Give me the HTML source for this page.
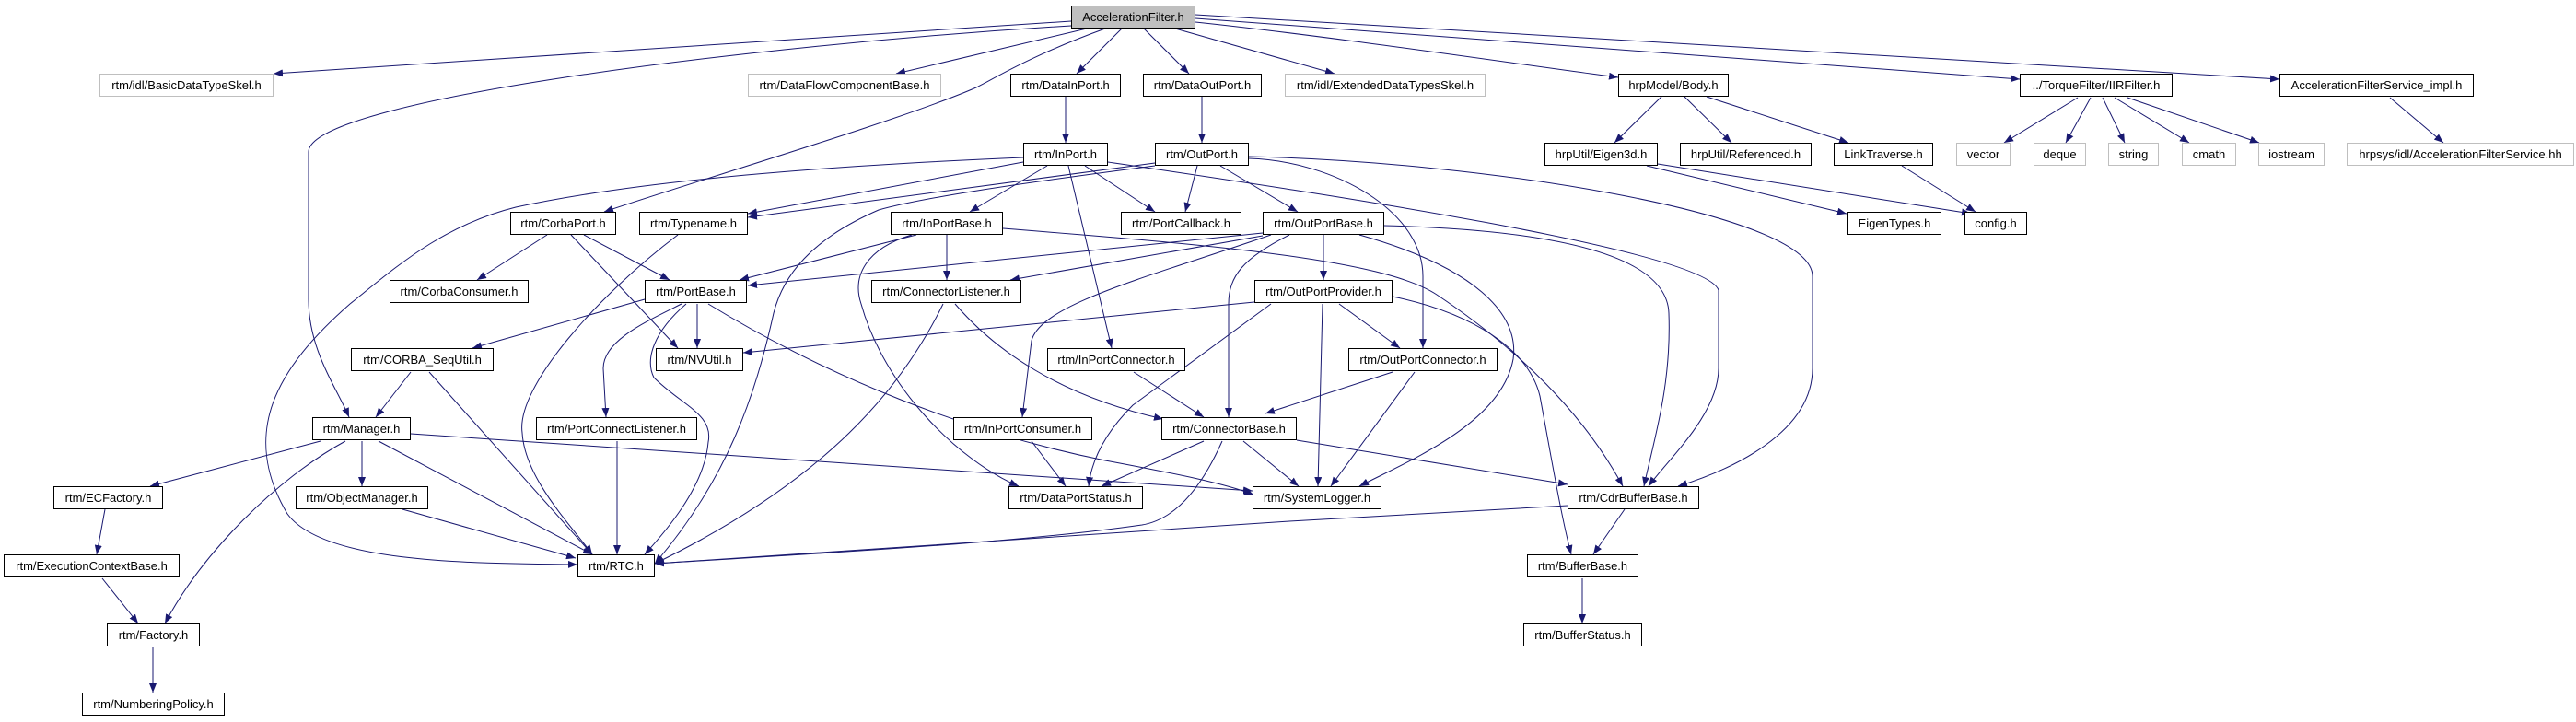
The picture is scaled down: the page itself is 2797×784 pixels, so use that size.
<!DOCTYPE html>
<html><head><meta charset="utf-8"><style>
html,body{margin:0;padding:0;background:#fff;}
#c{position:relative;width:2797px;height:784px;overflow:hidden;}
svg{position:absolute;left:0;top:0;}
.n{position:absolute;height:23px;border:1px solid #000;background:#fff;font:13px "Liberation Sans",sans-serif;line-height:23px;text-align:center;white-space:nowrap;color:#000;box-sizing:content-box;}
.g{border-color:#bfbfbf;}
.r{background:#bfbfbf;}
</style></head><body><div id="c">
<svg width="2797" height="784" viewBox="0 0 2797 784">
<defs><marker id="a" markerWidth="10" markerHeight="8" refX="10" refY="4" orient="auto" markerUnits="userSpaceOnUse"><path d="M0,0 L10,4 L0,8 z" fill="#191970"/></marker></defs>
<g fill="none" stroke="#191970" stroke-width="1" marker-end="url(#a)">
<path d="M1163,23 L297,80"/>
<path d="M1163,28 C800,50 335,110 335,165 L335,325 C335,380 365,420 379,453"/>
<path d="M1180,31 L973,80"/>
<path d="M1200,31 C1120,60 1080,85 1060,95 C980,130 760,195 656,230"/>
<path d="M1218,31 L1169,80"/>
<path d="M1242,31 L1291,80"/>
<path d="M1276,31 L1449,80"/>
<path d="M1298,24 C1450,40 1650,70 1757,84"/>
<path d="M1298,20 L2193,86"/>
<path d="M1298,16 L2475,86"/>
<path d="M1157,105 L1157,155"/>
<path d="M1305,105 L1305,155"/>
<path d="M1111,176 L812,232"/>
<path d="M1111,171 C900,180 700,195 560,225 C480,245 430,290 380,330 C300,400 260,470 312,558 C350,610 500,612 627,613"/>
<path d="M1137,180 L1053,230"/>
<path d="M1178,180 L1254,230"/>
<path d="M1160,180 L1207,378"/>
<path d="M1203,176 C1400,205 1850,270 1866,315 L1866,400 C1866,450 1810,500 1790,528"/>
<path d="M1254,177 L812,236"/>
<path d="M1254,180 C1100,200 1000,215 954,228 C880,260 850,300 840,340 C820,430 790,520 711,612"/>
<path d="M1300,180 L1287,230"/>
<path d="M1325,180 L1409,230"/>
<path d="M1356,172 C1450,175 1545,230 1545,300 L1545,378"/>
<path d="M1356,170 C1600,175 1968,230 1968,300 L1968,400 C1968,470 1880,510 1822,528"/>
<path d="M1804,105 L1753,155"/>
<path d="M1829,105 L1880,155"/>
<path d="M1853,105 L2007,155"/>
<path d="M1788,180 L2005,232"/>
<path d="M1800,178 L2140,232"/>
<path d="M2065,180 L2145,230"/>
<path d="M2256,106 L2176,155"/>
<path d="M2270,106 L2243,155"/>
<path d="M2283,106 L2307,155"/>
<path d="M2296,106 L2377,155"/>
<path d="M2310,106 L2453,155"/>
<path d="M2595,106 L2653,155"/>
<path d="M594,255 L518,304"/>
<path d="M620,255 L736,378"/>
<path d="M634,255 L727,304"/>
<path d="M736,255 C650,320 560,420 567,470 C570,520 620,570 643,602"/>
<path d="M995,255 L803,304"/>
<path d="M1028,255 L1028,304"/>
<path d="M990,255 C940,270 925,300 935,330 C960,420 1040,500 1106,528"/>
<path d="M1089,248 C1300,265 1500,280 1560,320 C1650,380 1720,450 1762,528"/>
<path d="M1371,253 L812,310"/>
<path d="M1371,256 L1097,304"/>
<path d="M1437,255 L1437,304"/>
<path d="M1380,255 C1250,300 1130,330 1120,370 L1110,453"/>
<path d="M1400,255 C1350,280 1334,300 1334,330 L1334,453"/>
<path d="M1476,255 C1600,290 1650,340 1643,390 C1630,460 1530,500 1476,528"/>
<path d="M1503,245 C1700,250 1810,280 1812,340 C1815,420 1795,480 1785,528"/>
<path d="M1380,330 L1230,440 C1200,470 1185,500 1182,528"/>
<path d="M700,325 L513,378"/>
<path d="M757,330 L757,378"/>
<path d="M740,330 C700,350 655,370 655,400 L658,453"/>
<path d="M745,330 C710,360 700,390 710,410 C740,440 775,450 769,480 C765,530 720,580 700,602"/>
<path d="M769,330 C900,410 1050,470 1200,500 C1280,515 1330,525 1361,537"/>
<path d="M1024,330 C980,420 900,520 711,612"/>
<path d="M1037,330 C1080,380 1150,430 1263,455"/>
<path d="M1362,328 L807,383"/>
<path d="M1454,330 L1520,378"/>
<path d="M1436,330 L1431,528"/>
<path d="M1512,322 C1600,340 1660,380 1672,430 C1685,500 1695,560 1706,602"/>
<path d="M446,404 L408,453"/>
<path d="M466,404 L643,602"/>
<path d="M1231,404 L1307,453"/>
<path d="M1512,404 L1374,449"/>
<path d="M1536,404 L1445,528"/>
<path d="M348,479 L163,528"/>
<path d="M393,479 L393,528"/>
<path d="M375,479 C300,520 220,600 179,677"/>
<path d="M411,479 L643,602"/>
<path d="M446,471 L1360,533"/>
<path d="M670,479 L670,602"/>
<path d="M1120,479 L1157,528"/>
<path d="M1307,479 L1196,528"/>
<path d="M1350,479 L1410,528"/>
<path d="M1327,479 C1300,540 1270,565 1240,570 C1100,590 900,600 711,612"/>
<path d="M1408,478 L1702,526"/>
<path d="M114,553 L105,602"/>
<path d="M111,628 L150,677"/>
<path d="M166,703 L166,752"/>
<path d="M437,553 L625,606"/>
<path d="M1702,549 L1400,566 L711,612"/>
<path d="M1764,553 L1730,602"/>
<path d="M1718,628 L1718,677"/>
</g></svg>
<div class="n r" style="left:1163px;top:6px;width:133px">AccelerationFilter.h</div>
<div class="n g" style="left:108px;top:80px;width:187px">rtm/idl/BasicDataTypeSkel.h</div>
<div class="n g" style="left:812px;top:80px;width:208px">rtm/DataFlowComponentBase.h</div>
<div class="n" style="left:1097px;top:80px;width:118px">rtm/DataInPort.h</div>
<div class="n" style="left:1241px;top:80px;width:127px">rtm/DataOutPort.h</div>
<div class="n g" style="left:1395px;top:80px;width:216px">rtm/idl/ExtendedDataTypesSkel.h</div>
<div class="n" style="left:1757px;top:80px;width:118px">hrpModel/Body.h</div>
<div class="n" style="left:2193px;top:80px;width:164px">../TorqueFilter/IIRFilter.h</div>
<div class="n" style="left:2475px;top:80px;width:209px">AccelerationFilterService_impl.h</div>
<div class="n" style="left:1111px;top:155px;width:90px">rtm/InPort.h</div>
<div class="n" style="left:1254px;top:155px;width:100px">rtm/OutPort.h</div>
<div class="n" style="left:1677px;top:155px;width:121px">hrpUtil/Eigen3d.h</div>
<div class="n" style="left:1824px;top:155px;width:141px">hrpUtil/Referenced.h</div>
<div class="n" style="left:1991px;top:155px;width:106px">LinkTraverse.h</div>
<div class="n g" style="left:2124px;top:155px;width:57px">vector</div>
<div class="n g" style="left:2208px;top:155px;width:55px">deque</div>
<div class="n g" style="left:2289px;top:155px;width:53px">string</div>
<div class="n g" style="left:2369px;top:155px;width:57px">cmath</div>
<div class="n g" style="left:2452px;top:155px;width:70px">iostream</div>
<div class="n g" style="left:2548px;top:155px;width:245px">hrpsys/idl/AccelerationFilterService.hh</div>
<div class="n" style="left:554px;top:230px;width:113px">rtm/CorbaPort.h</div>
<div class="n" style="left:694px;top:230px;width:116px">rtm/Typename.h</div>
<div class="n" style="left:967px;top:230px;width:120px">rtm/InPortBase.h</div>
<div class="n" style="left:1217px;top:230px;width:129px">rtm/PortCallback.h</div>
<div class="n" style="left:1371px;top:230px;width:130px">rtm/OutPortBase.h</div>
<div class="n" style="left:2006px;top:230px;width:100px">EigenTypes.h</div>
<div class="n" style="left:2133px;top:230px;width:66px">config.h</div>
<div class="n" style="left:423px;top:304px;width:149px">rtm/CorbaConsumer.h</div>
<div class="n" style="left:700px;top:304px;width:109px">rtm/PortBase.h</div>
<div class="n" style="left:946px;top:304px;width:161px">rtm/ConnectorListener.h</div>
<div class="n" style="left:1362px;top:304px;width:148px">rtm/OutPortProvider.h</div>
<div class="n" style="left:381px;top:378px;width:153px">rtm/CORBA_SeqUtil.h</div>
<div class="n" style="left:712px;top:378px;width:93px">rtm/NVUtil.h</div>
<div class="n" style="left:1137px;top:378px;width:148px">rtm/InPortConnector.h</div>
<div class="n" style="left:1464px;top:378px;width:160px">rtm/OutPortConnector.h</div>
<div class="n" style="left:339px;top:453px;width:105px">rtm/Manager.h</div>
<div class="n" style="left:582px;top:453px;width:173px">rtm/PortConnectListener.h</div>
<div class="n" style="left:1035px;top:453px;width:149px">rtm/InPortConsumer.h</div>
<div class="n" style="left:1261px;top:453px;width:145px">rtm/ConnectorBase.h</div>
<div class="n" style="left:58px;top:528px;width:117px">rtm/ECFactory.h</div>
<div class="n" style="left:321px;top:528px;width:142px">rtm/ObjectManager.h</div>
<div class="n" style="left:1095px;top:528px;width:144px">rtm/DataPortStatus.h</div>
<div class="n" style="left:1360px;top:528px;width:138px">rtm/SystemLogger.h</div>
<div class="n" style="left:1702px;top:528px;width:141px">rtm/CdrBufferBase.h</div>
<div class="n" style="left:4px;top:602px;width:189px">rtm/ExecutionContextBase.h</div>
<div class="n" style="left:627px;top:602px;width:82px">rtm/RTC.h</div>
<div class="n" style="left:1658px;top:602px;width:119px">rtm/BufferBase.h</div>
<div class="n" style="left:116px;top:677px;width:99px">rtm/Factory.h</div>
<div class="n" style="left:1654px;top:677px;width:127px">rtm/BufferStatus.h</div>
<div class="n" style="left:89px;top:752px;width:153px">rtm/NumberingPolicy.h</div>
</div></body></html>
